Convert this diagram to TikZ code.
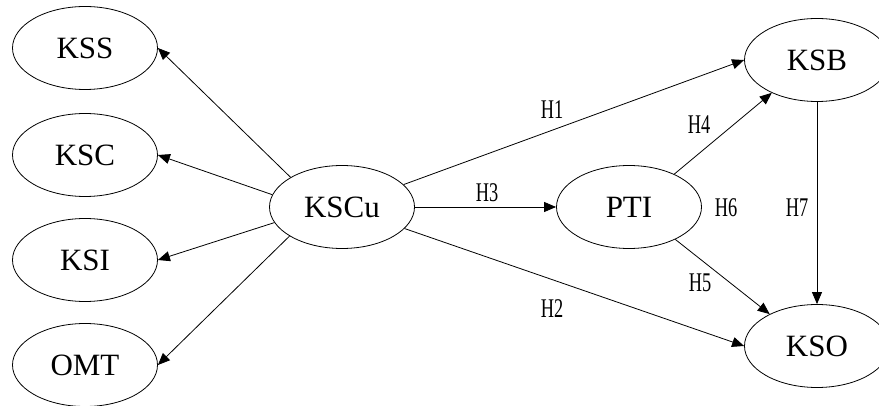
\documentclass[tikz,border=0pt]{standalone}
\usepackage{fontspec}
\setmainfont{Liberation Serif}
\newfontfamily\hfont[FakeStretch=0.68]{Liberation Serif}
\usetikzlibrary{arrows.meta,shapes.geometric}

\begin{document}
\begin{tikzpicture}[x=1pt,y=-1pt,
  var/.style={draw,ellipse,line width=0.8pt,minimum width=145pt,minimum height=83pt,inner sep=0pt,font=\fontsize{31}{31}\selectfont},
  link/.style={draw,line width=0.8pt,-{Triangle[length=12pt,width=10pt]}},
  hyp/.style={inner sep=0pt,font=\hfont\fontsize{27}{27}\selectfont}]
\useasboundingbox (0,0) rectangle (879,406);
\foreach \n/\y in {KSS/48,KSC/155,KSI/260,OMT/365} \node[var] (\n) at (85,\y) {\n};
\node[var] (KSCu) at (342,207) {KSCu};
\node[var] (PTI) at (629,207) {PTI};
\node[var] (KSB) at (817,60) {KSB};
\node[var] (KSO) at (817,346) {KSO};
\draw[link] (KSCu.150) -- (KSS.east);
\draw[link] (KSCu.170) -- (KSC.east);
\draw[link] (KSCu.193) -- (KSI.east);
\draw[link] (KSCu.209) -- (OMT.east);
\draw[link] (KSCu.20) -- (KSB.west);
\draw[link] (KSCu.east) -- (PTI.west);
\draw[link] (KSCu.341) -- (KSO.west);
\draw[link] (PTI.36) -- (KSB.216);
\draw[link] (PTI.325) -- (KSO.146);
\draw[link] (KSB.south) -- (KSO.north);
\node[hyp] (H1) at (552,110) {H1};
\node[hyp] (H2) at (552,309) {H2};
\node[hyp] (H3) at (487,193) {H3};
\node[hyp] (H4) at (699,125) {H4};
\node[hyp] (H5) at (700,283) {H5};
\node[hyp] (H6) at (726,208) {H6};
\node[hyp] (H7) at (797,208) {H7};
\end{tikzpicture}
\end{document}
